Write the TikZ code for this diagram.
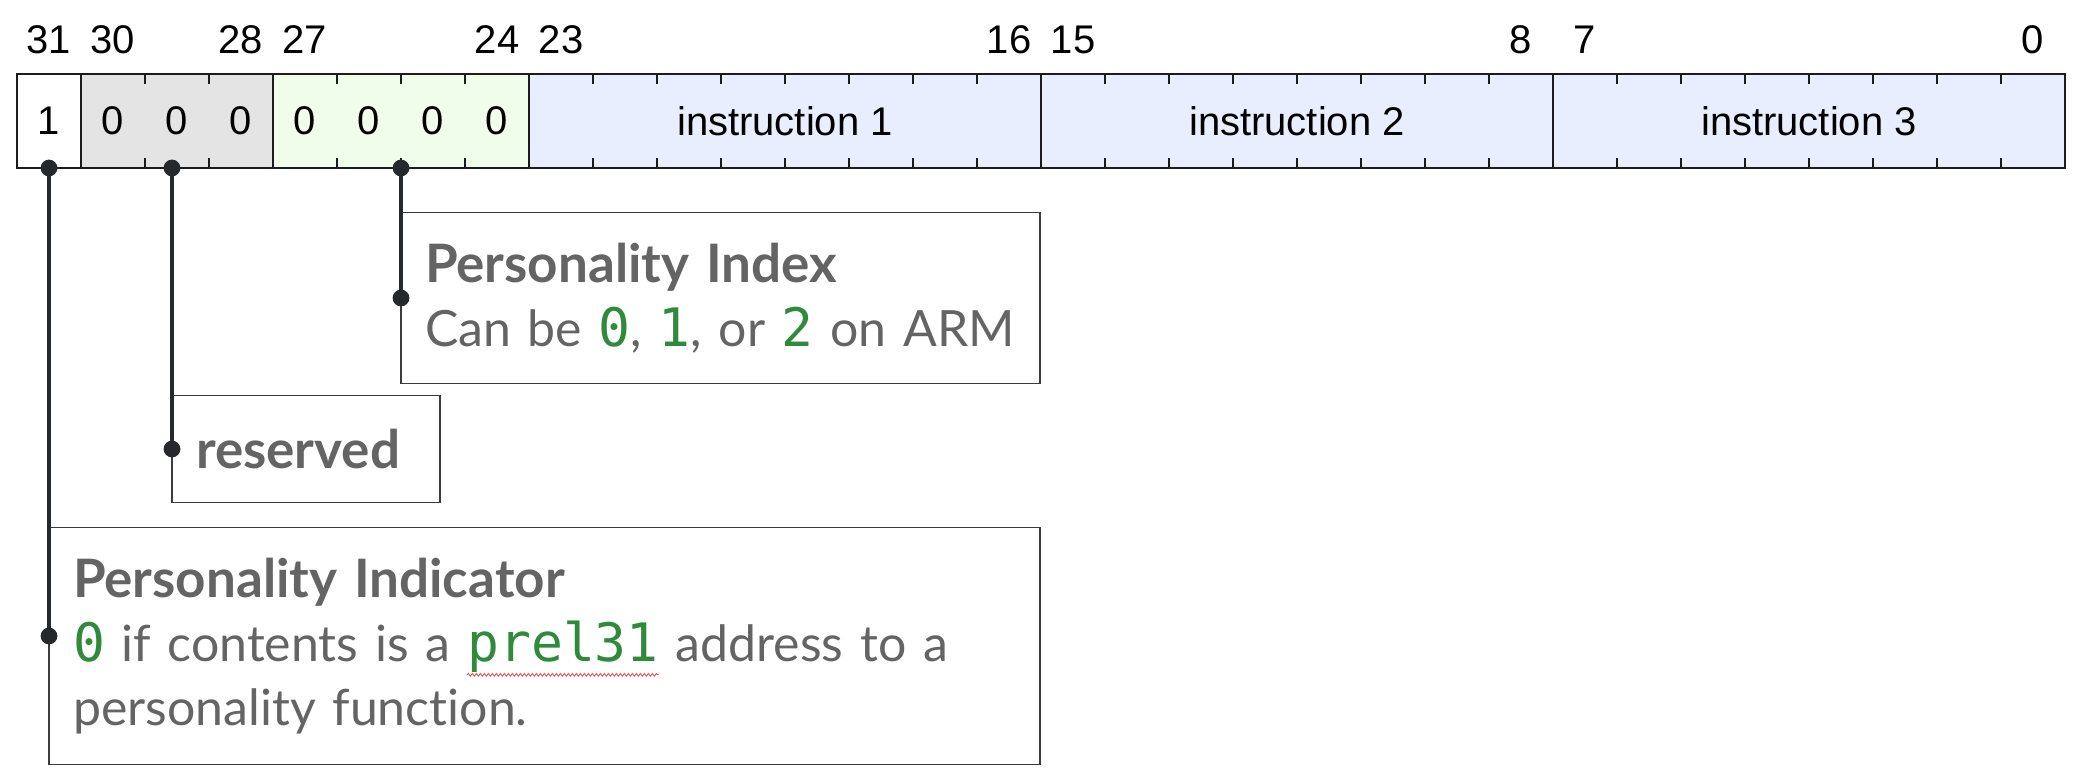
\documentclass[tikz,border=0pt]{standalone}
\usepackage{fontspec}
\setmainfont{Lato}[Ligatures=NoCommon]
\setmonofont{DejaVu Sans Mono}[Scale=1.06]
\newfontfamily\regfont{Liberation Sans}
\usepackage{xcolor}
\usepackage{tikz}
\usetikzlibrary{positioning, calc, decorations.pathmorphing}
\definecolor{regblack}{HTML}{1C1C1C}
\definecolor{resgrey}{HTML}{E4E4E4}
\definecolor{idxgreen}{HTML}{F0FDEB}
\definecolor{insnblue}{HTML}{E8EEFD}
\definecolor{textgrey}{HTML}{646464}
\definecolor{codegreen}{HTML}{2F8A3B}
\definecolor{leadgrey}{HTML}{25292B}
\definecolor{boxgrey}{HTML}{3C3C3C}
\definecolor{squigred}{HTML}{E04848}

\newcommand{\codetxt}[1]{\textcolor{codegreen}{\texttt{#1}}}
\newcommand{\desctitle}[1]{{\fontsize{26.5}{32}\selectfont\bfseries #1}}
\newcommand{\squig}[1]{\tikz[baseline=(sq.base)]{\node[inner sep=0pt, outer sep=0pt, anchor=center,
        minimum width=0pt, minimum height=0pt, text width=, align=left] (sq) {#1};
    \draw[squigred, line width=0.4pt, decorate, decoration={zigzag, amplitude=0.7pt, segment length=2pt}]
      ([yshift=-1.2pt]sq.south west) -- ([yshift=-1.2pt]sq.south east);}}

\begin{document}
\begin{tikzpicture}[x=0.5pt, y=-0.5pt,
    field/.style={draw=regblack, line width=1pt, inner sep=0pt, outer sep=0pt,
        minimum height=47pt, anchor=north west, font=\regfont\fontsize{20}{24}\selectfont},
    bitval/.style={inner sep=0pt, font=\regfont\fontsize{20}{24}\selectfont},
    bitnum/.style={inner sep=0pt, font=\regfont\fontsize{20}{24}\selectfont},
    tick/.style={draw=regblack, line width=0.8pt},
    descbox/.style={draw=boxgrey, line width=0.9pt, fill=white, inner xsep=12pt, inner ysep=0pt,
        outer sep=0pt, align=left, anchor=west, text=textgrey, font=\fontsize{25}{32}\selectfont},
    leader/.style={draw=leadgrey, line width=1.8pt}]
    \useasboundingbox (0,0) rectangle (2096,780);

    % register fields
    \node[field, fill=white, minimum width=32pt] (pind) at (17,74) {1};
    \node[field, fill=resgrey, minimum width=96pt, right=0pt of pind] (resv) {};
    \node[field, fill=idxgreen, minimum width=128pt, right=0pt of resv] (pidx) {};
    \node[field, fill=insnblue, minimum width=256pt, right=0pt of pidx] (insn1) {instruction 1};
    \node[field, fill=insnblue, minimum width=256pt, right=0pt of insn1] (insn2) {instruction 2};
    \node[field, fill=insnblue, minimum width=256pt, right=0pt of insn2] (insn3) {instruction 3};

    % bit values
    \foreach \i in {1,2,3}
        \node[bitval] (r\i) at ($(resv.west)+(\i*64-32,0)$) {0};
    \foreach \i in {1,...,4}
        \node[bitval] (x\i) at ($(pidx.west)+(\i*64-32,0)$) {0};

    % ticks between bits
    \foreach \f/\n in {resv/2, pidx/3, insn1/7, insn2/7, insn3/7}
        \foreach \i in {1,...,\n} {
            \draw[tick] ($(\f.north west)+(\i*64,0)$) -- ++(0,10);
            \draw[tick] ($(\f.south west)+(\i*64,0)$) -- ++(0,-10);
        }

    % bit numbers
    \foreach \b in {31,30,28,27,24,23,16,15,8,7,0}
        \node[bitnum] (b\b) at ({17+(31-\b)*64+32},40) {\b};

    % pins under the register
    \coordinate (indpin) at (pind.south);
    \coordinate (respin) at ([xshift=-2.5pt]resv.south);
    \coordinate (idxpin) at (pidx.south);

    % descriptions
    \node[descbox, text width=295.5pt, minimum height=85.5pt] (idxdesc) at (idxpin |- 0,298)
        {\desctitle{Personality Index}\\Can be \codetxt{0}, \codetxt{1}, or \codetxt{2} on ARM};
    \node[descbox, text width=110pt, minimum height=53.5pt] (resdesc) at (respin |- 0,449)
        {\desctitle{reserved}};
    \node[descbox, text width=471.5pt, minimum height=118.5pt] (inddesc) at (indpin |- 0,646)
        {\desctitle{Personality Indicator}\\\codetxt{0} if contents is a \squig{\codetxt{prel31}} address to a\\personality function.};
    \coordinate (indend) at ([yshift=5pt]inddesc.west);

    % leaders
    \foreach \p/\d in {indpin/indend, respin/resdesc.west, idxpin/idxdesc.west} {
        \draw[leader] (\p) -- (\d);
        \fill[leadgrey] (\p) circle (4.2pt) (\d) circle (4.2pt);
    }
\end{tikzpicture}
\end{document}
